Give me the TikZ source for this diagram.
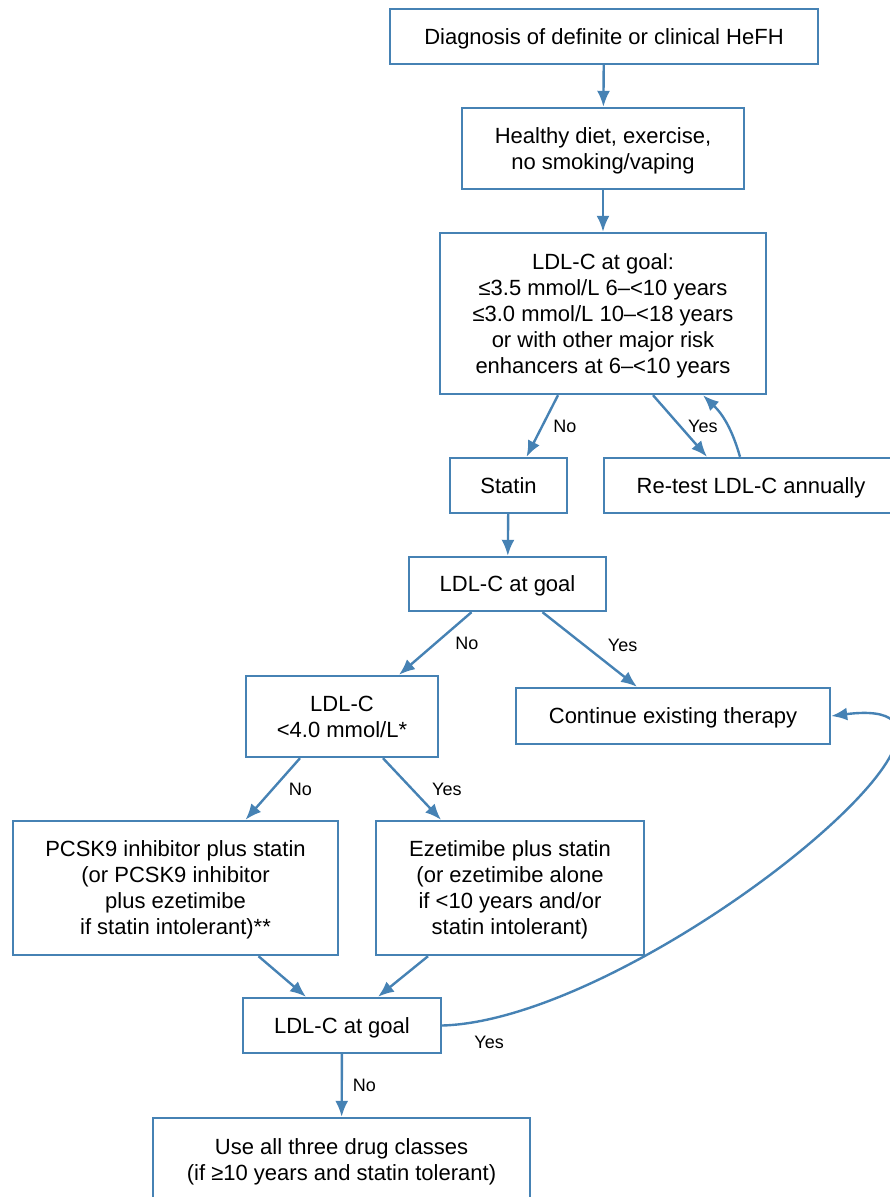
\documentclass[tikz,border=0pt]{standalone}
\usepackage{fontspec}
\setmainfont{Liberation Sans}
\usetikzlibrary{arrows.meta}
\definecolor{SteelLine}{HTML}{4682B4}

\begin{document}
\begin{tikzpicture}[
  x=1pt,y=-1pt,
  font=\fontsize{22}{26}\selectfont,
  box/.style={draw=SteelLine,fill=white,line width=2.4pt,align=center,inner sep=0pt,
    text depth=0pt},
  flow/.style={-{Latex[length=16pt,width=13pt]},draw=SteelLine,line width=2.4pt},
  lbl/.style={font=\fontsize{18}{20}\selectfont,inner sep=1pt}
]
  \useasboundingbox (0,0) rectangle (890,1197);

  \node[box,minimum width=428,minimum height=55] (diag) at (604,36.5) {Diagnosis of definite or clinical HeFH};
  \node[box,minimum width=282,minimum height=81] (diet) at (603,148.5) {Healthy diet, exercise,\\no smoking/vaping};
  \node[box,minimum width=326,minimum height=161] (goal) at (603,313.5) {LDL-C at goal:\\≤3.5 mmol/L 6–<10 years\\≤3.0 mmol/L 10–<18 years\\or with other major risk\\enhancers at 6–<10 years};
  \node[box,minimum width=117,minimum height=55] (statin) at (508.5,485.5) {Statin};
  \node[box,minimum width=294,minimum height=55] (retest) at (751,485.5) {Re-test LDL-C annually};
  \node[box,minimum width=197,minimum height=54] (goaltwo) at (507.5,584) {LDL-C at goal};
  \node[box,minimum width=192,minimum height=81] (below) at (342,716.5) {LDL-C\\<4.0 mmol/L*};
  \node[box,minimum width=314,minimum height=56] (cont) at (673,716) {Continue existing therapy};
  \node[box,minimum width=325,minimum height=134] (pcsk) at (175.5,888) {PCSK9 inhibitor plus statin\\(or PCSK9 inhibitor\\plus ezetimibe\\if statin intolerant)**};
  \node[box,minimum width=268,minimum height=134] (eze) at (510,888) {Ezetimibe plus statin\\(or ezetimibe alone\\if <10 years and/or\\statin intolerant)};
  \node[box,minimum width=198,minimum height=55] (goalthree) at (342,1025.5) {LDL-C at goal};
  \node[box,minimum width=377,minimum height=84] (three) at (341.5,1160) {Use all three drug classes\\(if ≥10 years and statin tolerant)};

  \draw[flow] (diag) -- (diet);
  \draw[flow] (diet) -- (goal);
  \draw[flow] ([xshift=-45pt]goal.south) -- node[lbl,right=9pt] {No} ([xshift=18pt]statin.north);
  \draw[flow] ([xshift=50pt]goal.south) -- node[lbl,right=6pt] {Yes} ([xshift=-44pt]retest.north);
  \draw[flow] ([xshift=-11pt]retest.north) to[bend right=15] ([xshift=100pt]goal.south);
  \draw[flow] (statin) -- (goaltwo);
  \draw[flow] ([xshift=-36pt]goaltwo.south) -- node[lbl,right=18pt] {No} ([xshift=57pt]below.north);
  \draw[flow] ([xshift=35pt]goaltwo.south) -- node[lbl,anchor=south west,xshift=16pt,yshift=-4pt] {Yes} ([xshift=-36pt]cont.north);
  \draw[flow] ([xshift=-42pt]below.south) -- node[lbl,right=14pt] {No} ([xshift=70pt]pcsk.north);
  \draw[flow] ([xshift=41pt]below.south) -- node[lbl,right=18pt] {Yes} ([xshift=-69pt]eze.north);
  \draw[flow] ([xshift=83pt]pcsk.south) -- ([xshift=-36pt]goalthree.north);
  \draw[flow] ([xshift=-82pt]eze.south) -- ([xshift=36pt]goalthree.north);
  \draw[flow] (goalthree.east) .. controls (640,1020) and (1040,690) .. node[lbl,pos=0,anchor=north west,xshift=30pt,yshift=-8pt] {Yes} (cont.east);
  \draw[flow] (goalthree) -- node[lbl,right=9pt] {No} (three);
\end{tikzpicture}
\end{document}
